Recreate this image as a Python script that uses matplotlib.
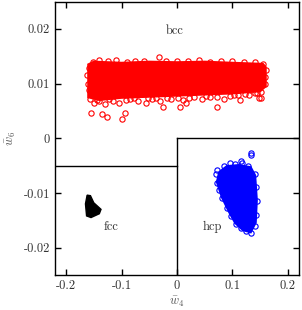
import matplotlib
matplotlib.use("Agg")
import matplotlib.pyplot as plt

# zones des phases (lignes de séparation)
x_min, x_max = -0.22, 0.22
y_min, y_max = -0.025, 0.025
fcc_top = -0.005
hcp_top = 0.0

# nuage bcc : coeur dense + points du bord
bcc_core_x = [-0.160, -0.150, -0.10, -0.05, 0.0, 0.05, 0.10, 0.155, 0.160, 0.160, 0.150, 0.10, 0.05, 0.0, -0.05, -0.10, -0.14, -0.160]
bcc_core_y = [0.0135, 0.0140, 0.0138, 0.0140, 0.0139, 0.0140, 0.0138, 0.0136, 0.0130, 0.0095, 0.0086, 0.0082, 0.0080, 0.0078, 0.0076, 0.0074, 0.0070, 0.0075]
bcc_x = [-0.158, -0.152, -0.14, -0.125, -0.11, -0.09, -0.075, -0.06, -0.032, -0.02, 0.0, 0.02, 0.04, 0.06, 0.08, 0.10, 0.12, 0.14, 0.155,
         -0.162, -0.160, -0.158, -0.156, 0.160, 0.159, 0.158,
         -0.150, -0.14, -0.13, -0.115, -0.105, -0.085, -0.07, -0.045, -0.03, -0.01, 0.01, 0.03, 0.045, 0.06, 0.085, 0.095, 0.11, 0.13, 0.14, 0.152,
         -0.145, -0.122, -0.092, -0.078, -0.052, -0.038, -0.018, 0.002, 0.022, 0.052, 0.072, 0.102, 0.122, 0.145,
         -0.155, -0.135, -0.126, -0.099, -0.094, -0.056, -0.025, 0.005, 0.016, 0.072, 0.114, 0.148, 0.152]
bcc_y = [0.0128, 0.0140, 0.0143, 0.0141, 0.0143, 0.0140, 0.0142, 0.0141, 0.0148, 0.0141, 0.0142, 0.0141, 0.0143, 0.0140, 0.0142, 0.0141, 0.0140, 0.0139, 0.0135,
         0.0115, 0.0100, 0.0088, 0.0072, 0.0125, 0.0112, 0.0100,
         0.0064, 0.0068, 0.0062, 0.0068, 0.0064, 0.0072, 0.0069, 0.0072, 0.0068, 0.0071, 0.0070, 0.0076, 0.0072, 0.0075, 0.0071, 0.0078, 0.0080, 0.0079, 0.0083, 0.0085,
         0.0070, 0.0071, 0.0070, 0.0073, 0.0074, 0.0074, 0.0073, 0.0074, 0.0073, 0.0077, 0.0076, 0.0079, 0.0081, 0.0083,
         0.0046, 0.0044, 0.0038, 0.0036, 0.0046, 0.0064, 0.0057, 0.0057, 0.0064, 0.0057, 0.0070, 0.0073, 0.0073]

# nuage hcp
hcp_core_x = [0.076, 0.090, 0.112, 0.133, 0.141, 0.144, 0.142, 0.133, 0.119, 0.105, 0.094, 0.081, 0.072]
hcp_core_y = [-0.0062, -0.0051, -0.0049, -0.0053, -0.0068, -0.0113, -0.0154, -0.0172, -0.0168, -0.0155, -0.0135, -0.0108, -0.0080]
hcp_x = [0.070, 0.073, 0.085, 0.095, 0.105, 0.118, 0.128, 0.115, 0.133, 0.133, 0.072, 0.076, 0.082, 0.090, 0.098, 0.106, 0.115, 0.125, 0.133, 0.140, 0.143, 0.145, 0.143, 0.140]
hcp_y = [-0.0065, -0.0058, -0.0050, -0.0045, -0.0047, -0.0046, -0.0050, -0.0042, -0.0027, -0.0031, -0.0082, -0.0095, -0.0110, -0.0128, -0.0143, -0.0156, -0.0165, -0.0170, -0.0173, -0.0160, -0.0140, -0.0115, -0.0090, -0.0065]

# nuage fcc (très compact)
fcc_x = [-0.162, -0.156, -0.150, -0.137, -0.140, -0.155, -0.163, -0.165]
fcc_y = [-0.0104, -0.0105, -0.0118, -0.0130, -0.0138, -0.0145, -0.0142, -0.0120]

plt.rcParams['font.family'] = 'serif'
plt.rcParams['font.serif'] = ['cmr10']
plt.rcParams['mathtext.fontset'] = 'cm'
plt.rcParams['axes.formatter.use_mathtext'] = True

fig = plt.figure(figsize=(3.02, 3.10), dpi=100)
ax = fig.add_axes([0.182, 0.113, 0.808, 0.882])

ax.fill(bcc_core_x, bcc_core_y, color='red', lw=1.5)
ax.plot(bcc_x, bcc_y, 'o', mfc='none', mec='red', ms=3.8, mew=0.8)
ax.fill(hcp_core_x, hcp_core_y, color='blue', lw=1.5)
ax.plot(hcp_x, hcp_y, 'o', mfc='none', mec='blue', ms=3.8, mew=0.8)
ax.fill(fcc_x, fcc_y, color='black', lw=1.0)

# lignes de séparation
ax.plot([x_min, 0], [fcc_top, fcc_top], color='black', lw=1.0)
ax.plot([0, 0], [y_min, hcp_top], color='black', lw=1.0)
ax.plot([0, x_max], [hcp_top, hcp_top], color='black', lw=1.0)

ax.text(-0.004, 0.0197, 'bcc', fontsize=9, ha='center', va='center', color='#333333')
ax.text(-0.119, -0.0163, 'fcc', fontsize=9, ha='center', va='center', color='#333333')
ax.text(0.063, -0.0163, 'hcp', fontsize=9, ha='center', va='center', color='#333333')

ax.set_xlim(x_min, x_max)
ax.set_ylim(y_min, y_max)
ax.set_xticks([-0.2, -0.1, 0, 0.1, 0.2])
ax.set_xticklabels(['-0.2', '-0.1', '0', '0.1', '0.2'])
ax.set_yticks([-0.02, -0.01, 0, 0.01, 0.02])
ax.set_yticklabels(['-0.02', '-0.01', '0', '0.01', '0.02'])
ax.tick_params(direction='in', top=True, right=True, length=4, width=1.0, labelsize=9, colors='black', labelcolor='#333333')
for s in ax.spines.values():
    s.set_linewidth(1.0)

ax.set_xlabel(r'$\bar{w}_4$', fontsize=9, color='#555555', labelpad=2)
ax.set_ylabel(r'$\bar{w}_6$', fontsize=9, color='#555555', labelpad=4)

fig.savefig('out.png', dpi=100)
